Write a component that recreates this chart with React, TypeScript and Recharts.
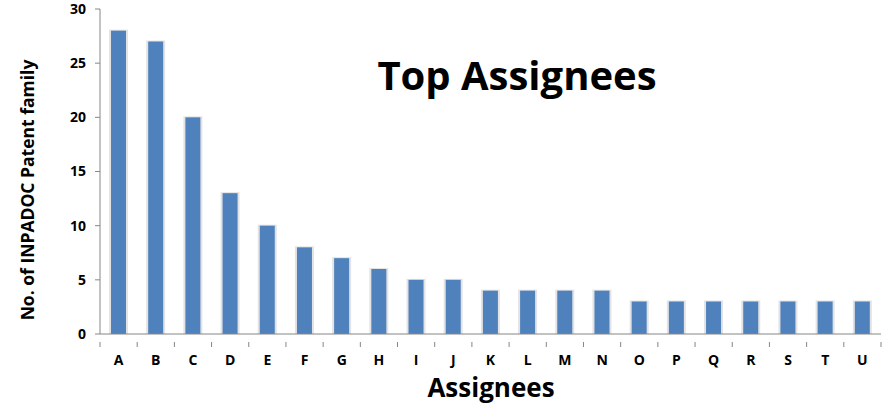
import React from 'react';
import { BarChart, Bar, XAxis, YAxis } from 'recharts';

const assignees = ['A', 'B', 'C', 'D', 'E', 'F', 'G', 'H', 'I', 'J', 'K', 'L', 'M', 'N', 'O', 'P', 'Q', 'R', 'S', 'T', 'U'];
const families = [28, 27, 20, 13, 10, 8, 7, 6, 5, 5, 4, 4, 4, 4, 3, 3, 3, 3, 3, 3, 3];
const yTicks = [0, 5, 10, 15, 20, 25, 30];

const data = assignees.map((name, i) => ({ name, value: families[i] }));

const W = 886;
const H = 413;
const PLOT_LEFT = 100;
const PLOT_RIGHT = 881;
const BAND = (PLOT_RIGHT - PLOT_LEFT) / assignees.length;
const AXIS = '#868686';
const font = '"Open Sans", Lato, sans-serif';

const ShadowBar = (props: any) => {
  const { x, y, width, height } = props;
  if (!height) return null;
  return (
    <g>
      <rect x={x - 2} y={y - 1} width={width + 4} height={height + 1} fill="#e3e3e3" />
      <rect x={x} y={y} width={width} height={height} fill="#4F81BD" />
    </g>
  );
};

const CatTick = (props: any) => {
  const { x, y, payload, index } = props;
  const left = x - BAND / 2;
  return (
    <g>
      <line x1={left} y1={y} x2={left} y2={y + 5} stroke={AXIS} />
      {index === assignees.length - 1 && (
        <line x1={x + BAND / 2} y1={y} x2={x + BAND / 2} y2={y + 5} stroke={AXIS} />
      )}
      <text x={x} y={y + 23} textAnchor="middle" fontSize={14} fontWeight="bold" fill="#000" fontFamily={font}>
        {payload.value}
      </text>
    </g>
  );
};

export default function App() {
  return (
    <div style={{ position: 'absolute', left: 0, top: 0, width: W, height: H, background: '#fff', fontFamily: font }}>
      <BarChart width={W} height={H} data={data} margin={{ top: 9, right: W - PLOT_RIGHT, bottom: 49, left: 0 }}>
        <XAxis
          dataKey="name"
          height={30}
          axisLine={{ stroke: AXIS }}
          tickLine={false}
          tick={<CatTick />}
          interval={0}
        />
        <YAxis
          width={PLOT_LEFT}
          domain={[0, 30]}
          ticks={yTicks}
          axisLine={{ stroke: AXIS }}
          tickLine={{ stroke: AXIS }}
          tickSize={5}
          tickMargin={9}
          tick={{ fontSize: 14, fontWeight: 'bold', fill: '#000', fontFamily: font }}
        />
        <Bar dataKey="value" barSize={15} shape={<ShadowBar />} isAnimationActive={false} />
      </BarChart>
      <div style={{ position: 'absolute', left: 517, top: 75, transform: 'translate(-50%, -50%)', fontSize: 40, lineHeight: 1, fontWeight: 'bold', color: '#000', whiteSpace: 'nowrap' }}>
        Top Assignees
      </div>
      <div style={{ position: 'absolute', left: 491, top: 387, transform: 'translate(-50%, -50%)', fontSize: 26, lineHeight: 1, fontWeight: 'bold', color: '#000', whiteSpace: 'nowrap' }}>
        Assignees
      </div>
      <div
        style={{
          position: 'absolute',
          left: 28,
          top: 190,
          transform: 'translate(-50%, -50%) rotate(-90deg)',
          fontSize: 17.5,
          lineHeight: 1,
          fontWeight: 'bold',
          color: '#000',
          whiteSpace: 'nowrap',
        }}
      >
        No. of INPADOC Patent family
      </div>
    </div>
  );
}
